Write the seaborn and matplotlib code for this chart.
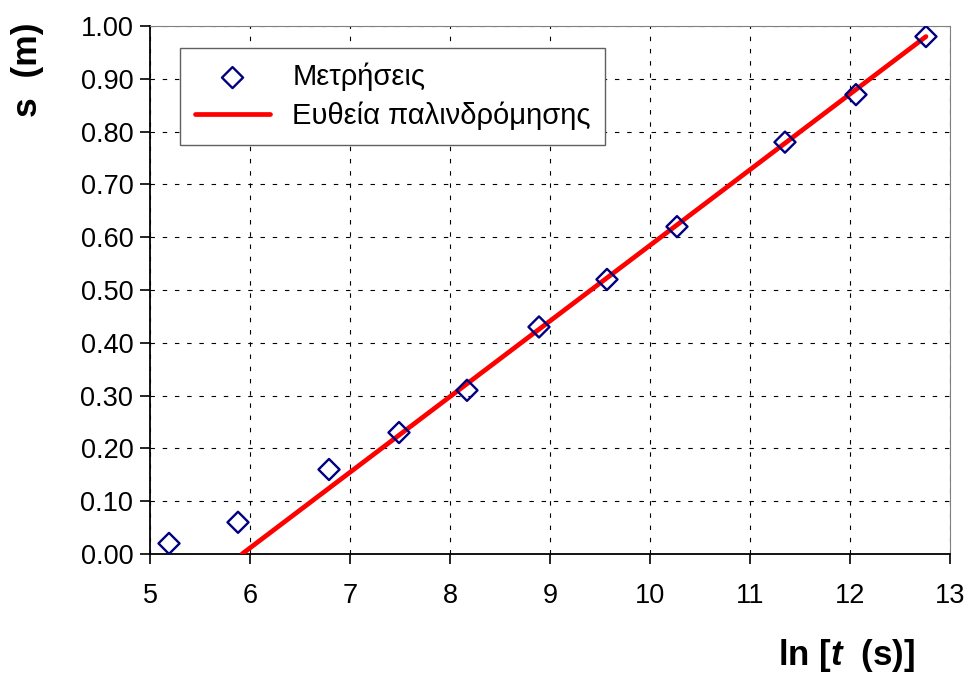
import numpy as np
import pandas as pd
import seaborn as sns
from matplotlib import pyplot as plt

ln_t = [5.19, 5.88, 6.79, 7.49, 8.17, 8.89, 9.57, 10.27, 11.35, 12.06, 12.76]
s_m = [0.02, 0.06, 0.16, 0.23, 0.31, 0.43, 0.52, 0.62, 0.78, 0.87, 0.98]
# regression line end points
fit_x = [5.92, 12.76]
fit_y = [0.00, 0.98]

x_ticks = [5, 6, 7, 8, 9, 10, 11, 12, 13]
y_ticks = [0.0, 0.1, 0.2, 0.3, 0.4, 0.5, 0.6, 0.7, 0.8, 0.9, 1.0]

df = pd.DataFrame({'ln_t': ln_t, 's': s_m})
df_fit = pd.DataFrame({'ln_t': fit_x, 's': fit_y})

sns.set_style('white')
plt.rcParams['font.family'] = ['Liberation Sans', 'DejaVu Sans']
plt.rcParams['text.color'] = 'black'
plt.rcParams['axes.labelcolor'] = 'black'
plt.rcParams['mathtext.fontset'] = 'custom'
plt.rcParams['mathtext.rm'] = 'Liberation Sans'
plt.rcParams['mathtext.bfit'] = 'Liberation Sans:italic:bold'

fig = plt.figure(figsize=(9.66, 6.77), dpi=100)
ax = fig.add_axes([0.1553, 0.1817, 0.8281, 0.7799])

sns.scatterplot(data=df, x='ln_t', y='s', ax=ax, marker='D', s=115,
                facecolor='none', edgecolor='#000080', linewidth=1.7,
                label='Μετρήσεις', zorder=4)
sns.lineplot(data=df_fit, x='ln_t', y='s', ax=ax, color='#ff0000',
             linewidth=3.4, label='Ευθεία παλινδρόμησης', zorder=3)

ax.set_xlim(5, 13)
ax.set_ylim(0, 1.0)
ax.set_xticks(x_ticks)
ax.set_yticks(y_ticks)
ax.set_yticklabels(['%.2f' % v for v in y_ticks])
ax.tick_params(axis='both', labelsize=19.5, direction='out', length=7,
               width=1.2, colors='black', left=True, bottom=True)
ax.tick_params(axis='x', pad=14)
ax.tick_params(axis='y', pad=5)

# dashed grid
ax.grid(True, color='black', linestyle=(0, (4, 7)), linewidth=0.8)
ax.set_axisbelow(True)

for side in ['left', 'bottom']:
    ax.spines[side].set_color('black')
    ax.spines[side].set_linewidth(1.3)
for side in ['top', 'right']:
    ax.spines[side].set_color('#808080')
    ax.spines[side].set_linewidth(0.8)

ax.set_xlabel(r'ln [$\mathbfit{t}$  (s)]', fontsize=25, fontweight='bold')
ax.set_ylabel('s  (m)', fontsize=25.5, fontweight='bold')
ax.xaxis.set_label_coords(0.871, -0.158)
ax.yaxis.set_label_coords(-0.133, 0.918)

leg = ax.legend(loc='upper left', bbox_to_anchor=(0.0375, 0.958),
                fontsize=21, frameon=True, fancybox=False, framealpha=1,
                edgecolor='#606060', handlelength=2.6, borderpad=0.5,
                labelspacing=0.35, handletextpad=0.75, borderaxespad=0)
leg.get_frame().set_linewidth(1.0)

fig.savefig('out.png', dpi=100, facecolor='white')
